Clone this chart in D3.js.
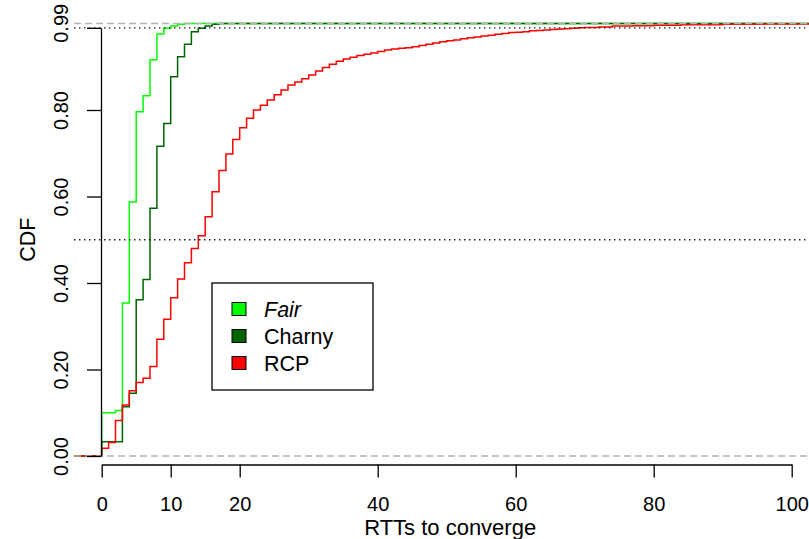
<!DOCTYPE html>
<html>
<head>
<meta charset="utf-8">
<script src="https://cdn.jsdelivr.net/npm/d3@7"></script>
<style>
  html, body { margin: 0; padding: 0; background: #fff; }
  svg { display: block; font-family: "Liberation Sans", Arial, Helvetica, sans-serif; }
</style>
</head>
<body>
<svg id="chart" width="809" height="539"></svg>
<script>
// Empirical CDFs of the number of RTTs needed to converge.
// Each series: jump locations (RTTs) and the CDF value reached at that jump.
const seriesNames = ["Fair", "Charny", "RCP"];
const seriesColors = ["#00ff00", "#006400", "#ff0000"];

const fairRTT = [0, 2, 3, 4, 5, 6, 7, 8, 9, 10, 11, 12];
const fairCDF = [0.100, 0.105, 0.354, 0.587, 0.796, 0.833, 0.916, 0.976, 0.989, 0.994, 0.998, 1.000];

const charnyRTT = [0, 3, 4, 5, 6, 7, 8, 9, 10, 11, 12, 13, 14, 15, 16, 17];
const charnyCDF = [0.033, 0.114, 0.145, 0.361, 0.408, 0.573, 0.716, 0.769, 0.877, 0.923, 0.952, 0.981, 0.989, 0.994, 0.998, 1.000];

const rcpRTT = [0, 1, 2, 3, 4, 5, 6, 7, 8, 9, 10, 11, 12, 13, 14, 15, 16, 17, 18, 19,
  20, 21, 22, 23, 24, 25, 26, 27, 28, 29, 30, 31, 32, 33, 34, 35, 36, 37, 38, 39,
  40, 41, 42, 43, 44, 45, 46, 47, 48, 49, 50, 51, 52, 53, 54, 55, 56, 57, 58, 59,
  60, 61, 62, 63, 64, 65, 66, 67, 68, 69, 70, 72, 74, 77, 80, 84, 90, 96];
const rcpCDF = [0.018, 0.031, 0.082, 0.118, 0.151, 0.170, 0.180, 0.207, 0.270, 0.316,
  0.366, 0.409, 0.447, 0.480, 0.509, 0.553, 0.611, 0.660, 0.698, 0.732,
  0.759, 0.781, 0.800, 0.811, 0.823, 0.835, 0.846, 0.858, 0.865, 0.872,
  0.881, 0.890, 0.898, 0.906, 0.913, 0.918, 0.922, 0.926, 0.929, 0.932,
  0.935, 0.939, 0.941, 0.943, 0.944, 0.946, 0.949, 0.952, 0.955, 0.958,
  0.960, 0.962, 0.965, 0.967, 0.969, 0.971, 0.973, 0.975, 0.977, 0.979,
  0.980, 0.981, 0.983, 0.984, 0.985, 0.986, 0.987, 0.988, 0.989, 0.990,
  0.991, 0.992, 0.994, 0.995, 0.996, 0.997, 0.998, 0.999];

const xTicks = [0, 10, 20, 40, 60, 80, 100];
const yTicks = [0, 0.2, 0.4, 0.6, 0.8, 0.99];
const refDotted = [0.5, 0.99];   // dotted guides
const refDashed = [0, 1];        // grey 0/1 lines
const xLimits = [-4, 105];

const svg = d3.select("#chart");

const x = d3.scaleLinear().domain([0, 100]).range([101.7, 791.7]);
const y = d3.scaleLinear().domain([0, 1]).range([456, 23.5]);

const plotLeft = x(xLimits[0]);
const plotRight = x(xLimits[1]);

svg.append("defs").append("clipPath").attr("id", "plotclip")
  .append("rect").attr("x", plotLeft).attr("y", 0)
  .attr("width", plotRight - plotLeft).attr("height", 470);

const plot = svg.append("g").attr("clip-path", "url(#plotclip)");

// step curves
const stepLine = d3.line()
  .x(d => x(d[0]))
  .y(d => y(d[1]))
  .curve(d3.curveStepAfter);

function ecdfPoints(rtt, cdf) {
  const pts = [[xLimits[0], 0]];
  rtt.forEach((r, i) => pts.push([r, cdf[i]]));
  pts.push([xLimits[1], cdf[cdf.length - 1]]);
  return pts;
}

const series = [
  { rtt: fairRTT, cdf: fairCDF },
  { rtt: charnyRTT, cdf: charnyCDF },
  { rtt: rcpRTT, cdf: rcpCDF }
];

series.forEach((s, i) => {
  plot.append("path")
    .attr("d", stepLine(ecdfPoints(s.rtt, s.cdf)))
    .attr("fill", "none")
    .attr("stroke", seriesColors[i])
    .attr("stroke-width", 1.5)
    .attr("stroke-linejoin", "miter");
});

// grey dashed 0 and 1 lines
plot.selectAll("line.zeroone").data(refDashed).enter().append("line")
  .attr("class", "zeroone")
  .attr("x1", plotLeft).attr("x2", plotRight)
  .attr("y1", d => y(d)).attr("y2", d => y(d))
  .attr("stroke", "#b3b3b3").attr("stroke-width", 1.7)
  .attr("stroke-dasharray", "7,4");

// dotted guides
plot.selectAll("line.guide").data(refDotted).enter().append("line")
  .attr("class", "guide")
  .attr("x1", plotLeft).attr("x2", plotRight)
  .attr("y1", d => y(d)).attr("y2", d => y(d))
  .attr("stroke", "#000").attr("stroke-width", 1.3)
  .attr("stroke-dasharray", "1.3,3.7");

// x axis
const xAxis = d3.axisBottom(x)
  .tickValues(xTicks)
  .tickFormat(d3.format("d"))
  .tickSize(13)
  .tickSizeOuter(0)
  .tickPadding(18.8);

const gx = svg.append("g")
  .attr("transform", "translate(0,464.5)")
  .call(xAxis);
gx.select(".domain").attr("stroke", "#000").attr("stroke-width", 1.3);
gx.selectAll(".tick line").attr("stroke", "#000").attr("stroke-width", 1.3);
gx.selectAll(".tick text")
  .attr("fill", "#000")
  .style("font-size", "20px")
  .style("font-family", "'Liberation Sans', Arial, sans-serif");

// y axis: spans 0 .. 0.99
const yAxisScale = y.copy().domain([0, 0.99]).range([y(0), y(0.99)]);
const yAxis = d3.axisLeft(yAxisScale)
  .tickValues(yTicks)
  .tickFormat(d3.format(".2f"))
  .tickSize(14)
  .tickSizeOuter(0);

const gy = svg.append("g")
  .attr("transform", `translate(${x(0) - 0.7},0)`)
  .call(yAxis);
gy.select(".domain").attr("stroke", "#000").attr("stroke-width", 1.3);
gy.selectAll(".tick line").attr("stroke", "#000").attr("stroke-width", 1.3);
gy.selectAll(".tick text")
  .attr("fill", "#000")
  .attr("transform", "rotate(-90)")
  .attr("x", d => (d === 0.99 ? 5 : 0))   // keep the top label inside the frame
  .attr("y", -33.5)
  .attr("dy", 0)
  .attr("text-anchor", "middle")
  .style("font-size", "20px")
  .style("font-family", "'Liberation Sans', Arial, sans-serif");

// axis titles
svg.append("text")
  .attr("x", (plotLeft + plotRight) / 2)
  .attr("y", 535)
  .attr("text-anchor", "middle")
  .style("font-size", "22px")
  .text("RTTs to converge");

svg.append("text")
  .attr("transform", `translate(34.5,${y(0.5)}) rotate(-90)`)
  .attr("text-anchor", "middle")
  .style("font-size", "21.5px")
  .text("CDF");

// legend
const legend = svg.append("g");
legend.append("rect")
  .attr("x", 212).attr("y", 283)
  .attr("width", 161).attr("height", 107)
  .attr("fill", "#fff")
  .attr("stroke", "#000").attr("stroke-width", 1.3);

const legendRows = legend.selectAll("g.row").data(seriesNames).enter().append("g")
  .attr("class", "row")
  .attr("transform", (d, i) => `translate(232,${309 + i * 27})`);

legendRows.append("rect")
  .attr("x", 0).attr("y", -6.5)
  .attr("width", 14).attr("height", 13)
  .attr("fill", (d, i) => seriesColors[i])
  .attr("stroke", "#000").attr("stroke-width", 1);

legendRows.append("text")
  .attr("x", 32).attr("y", 7.5)
  .style("font-size", "21.5px")
  .style("font-style", (d, i) => i === 0 ? "italic" : "normal")
  .text(d => d);
</script>
</body>
</html>
